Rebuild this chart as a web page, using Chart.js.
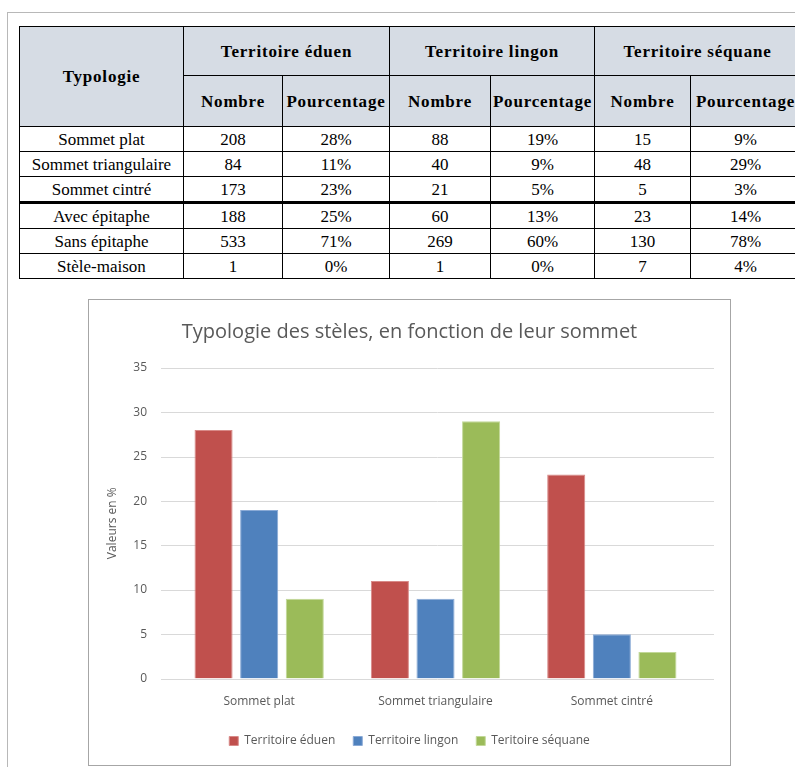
<!DOCTYPE html>
<html>
<head>
<meta charset="utf-8">
<script src="https://cdn.jsdelivr.net/npm/chart.js@4"></script>
<style>
  body { margin: 0; background: #fff; overflow: hidden; width: 795px; height: 767px; position: relative; }
  .frame { position: absolute; left: 7px; top: 12px; width: 800px; height: 800px; border-left: 1px solid #b8b8b8; border-top: 1px solid #b8b8b8; }
  table { position: absolute; left: 19px; top: 26px; border-collapse: collapse; table-layout: fixed; width: 781px;
          font-family: "Liberation Serif", "Times New Roman", Times, "DejaVu Serif", serif; font-size: 17px; color: #000; }
  td, th { border: 1.5px solid #000; text-align: center; padding: 0; line-height: 1; }
  th { background: #d6dce4; font-weight: bold; letter-spacing: 0.8px; }
  tr.h1 th { height: 48px; }
  tr.h2 th { height: 50px; }
  tbody td { height: 24px; }
  tr.thick td { border-bottom: 3px solid #000; }
  .chartbox { position: absolute; left: 88px; top: 299px; width: 641px; height: 465px; border: 1px solid #a6a6a6; }
</style>
</head>
<body>
<div class="frame"></div>
<table id="tbl">
  <colgroup>
    <col style="width:164px"><col style="width:99px"><col style="width:107px"><col style="width:101px">
    <col style="width:104px"><col style="width:96px"><col style="width:110px">
  </colgroup>
  <thead>
    <tr class="h1">
      <th rowspan="2">Typologie</th>
      <th colspan="2">Territoire éduen</th>
      <th colspan="2">Territoire lingon</th>
      <th colspan="2">Territoire séquane</th>
    </tr>
    <tr class="h2">
      <th>Nombre</th><th>Pourcentage</th><th>Nombre</th><th>Pourcentage</th><th>Nombre</th><th>Pourcentage</th>
    </tr>
  </thead>
  <tbody id="tbody"></tbody>
</table>
<div class="chartbox"><canvas id="chartBar"></canvas></div>
<script>
// table data
const rowLabels = ["Sommet plat", "Sommet triangulaire", "Sommet cintré", "Avec épitaphe", "Sans épitaphe", "Stèle-maison"];
const eduenNombre = [208, 84, 173, 188, 533, 1];
const eduenPct = [28, 11, 23, 25, 71, 0];
const lingonNombre = [88, 40, 21, 60, 269, 1];
const lingonPct = [19, 9, 5, 13, 60, 0];
const sequaneNombre = [15, 48, 5, 23, 130, 7];
const sequanePct = [9, 29, 3, 14, 78, 4];

// chart data
const categories = ["Sommet plat", "Sommet triangulaire", "Sommet cintré"];
const seriesNames = ["Territoire éduen", "Territoire lingon", "Teritoire séquane"];
const eduenValues = [28, 11, 23];
const lingonValues = [19, 9, 5];
const sequaneValues = [9, 29, 3];

const tbody = document.getElementById("tbody");
rowLabels.forEach((label, i) => {
  const tr = document.createElement("tr");
  if (i === 2) tr.className = "thick";
  const cells = [label, eduenNombre[i], eduenPct[i] + "%", lingonNombre[i], lingonPct[i] + "%", sequaneNombre[i], sequanePct[i] + "%"];
  cells.forEach(c => {
    const td = document.createElement("td");
    td.textContent = c;
    tr.appendChild(td);
  });
  tbody.appendChild(tr);
});

const textColor = "#595959";
const font = "'Open Sans', 'Noto Sans', sans-serif";

// gridlines run a little past the bars on both sides, like the Excel plot area
const wideGrid = {
  id: "wideGrid",
  beforeDatasetsDraw(chart) {
    const { ctx, chartArea, scales: { y } } = chart;
    ctx.save();
    ctx.strokeStyle = "#d9d9d9";
    ctx.lineWidth = 1;
    y.ticks.forEach(t => {
      const py = Math.round(y.getPixelForValue(t.value)) + 0.5;
      ctx.beginPath();
      ctx.moveTo(chartArea.left - 10, py);
      ctx.lineTo(chartArea.right + 14, py);
      ctx.stroke();
    });
    ctx.restore();
  }
};

new Chart(document.getElementById("chartBar").getContext("2d"), {
  type: "bar",
  data: {
    labels: categories,
    datasets: [
      { label: seriesNames[0], data: eduenValues, backgroundColor: "#c0504d", borderColor: "#d88a88", borderWidth: 1 },
      { label: seriesNames[1], data: lingonValues, backgroundColor: "#4f81bd", borderColor: "#8aaad6", borderWidth: 1 },
      { label: seriesNames[2], data: sequaneValues, backgroundColor: "#9bbb59", borderColor: "#c2d898", borderWidth: 1 }
    ]
  },
  options: {
    responsive: true,
    maintainAspectRatio: false,
    animation: false,
    datasets: { bar: { categoryPercentage: 0.776, barPercentage: 0.835 } },
    layout: { padding: { left: 20, right: 20, top: 8, bottom: 8 } },
    plugins: {
      title: {
        display: true,
        text: "Typologie des stèles, en fonction de leur sommet",
        color: textColor,
        font: { family: font, size: 20, weight: "normal" },
        padding: { top: 12, bottom: 24 }
      },
      legend: {
        position: "bottom",
        labels: { color: textColor, font: { family: font, size: 12 }, boxWidth: 9, boxHeight: 9, padding: 18 }
      },
      tooltip: { enabled: false }
    },
    scales: {
      x: {
        grid: { display: false },
        border: { display: false },
        ticks: { color: textColor, font: { family: font, size: 12 }, padding: 8 },
        afterFit: s => { s.paddingLeft = 0; s.paddingRight = 0; }
      },
      y: {
        min: 0, max: 35,
        ticks: { stepSize: 5, color: textColor, font: { family: font, size: 12 }, padding: 24 },
        grid: { display: false, drawTicks: false },
        border: { display: false },
        title: { display: true, text: "Valeurs en %", color: textColor, font: { family: font, size: 12 }, padding: { top: -4, bottom: 4 } },
        afterFit: s => { s.width = 62; }
      },
      yr: {
        position: "right",
        grid: { display: false, drawTicks: false },
        border: { display: false },
        ticks: { display: false },
        afterFit: s => { s.width = 10; }
      }
    }
  },
  plugins: [wideGrid]
});
</script>
</body>
</html>
